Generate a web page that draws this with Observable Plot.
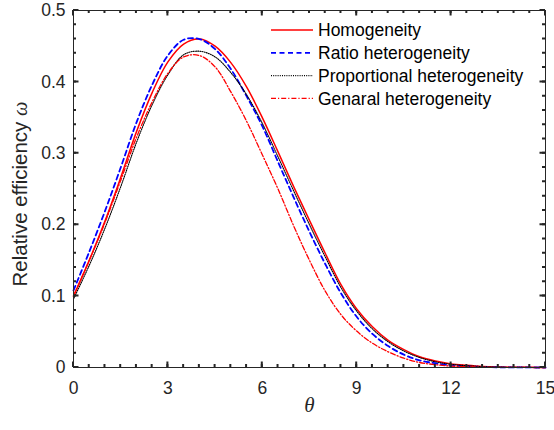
<!DOCTYPE html>
<html><head><meta charset="utf-8">
<script src="https://cdn.jsdelivr.net/npm/d3@7"></script>
<script src="https://cdn.jsdelivr.net/npm/@observablehq/plot@0.6"></script>
<style>body{margin:0;background:#fff;}</style>
</head><body><div id="chart"></div>
<script>
const theta = [0,0.5,1,1.5,2,2.5,3,3.5,4,4.5,5,5.5,6,6.5,7,7.5,8,8.5,9,9.5,10,10.5,11,11.5,12,12.5,13,13.5,14,14.5,15];
const homogeneity = [0.100,0.150,0.205,0.266,0.330,0.385,0.428,0.453,0.460,0.450,0.427,0.393,0.350,0.302,0.253,0.206,0.160,0.116,0.082,0.057,0.038,0.025,0.015,0.009,0.005,0.003,0.0015,0.0008,0.0004,0.0002,0.0001];
const ratioHet = [0.108,0.162,0.219,0.280,0.343,0.396,0.437,0.459,0.460,0.446,0.418,0.380,0.338,0.288,0.238,0.190,0.145,0.104,0.071,0.047,0.030,0.018,0.010,0.006,0.003,0.0015,0.0007,0.0003,0.0001,0.00005,0];
const proportionalHet = [0.096,0.143,0.195,0.253,0.315,0.368,0.410,0.438,0.443,0.435,0.413,0.382,0.342,0.295,0.247,0.200,0.155,0.112,0.079,0.054,0.036,0.023,0.014,0.008,0.0045,0.0025,0.0013,0.0006,0.0003,0.0001,0.00005];
const generalHet = [0.100,0.150,0.203,0.262,0.322,0.372,0.412,0.435,0.437,0.421,0.386,0.345,0.298,0.250,0.198,0.150,0.107,0.074,0.051,0.034,0.022,0.013,0.007,0.004,0.002,0.001,0.0005,0.0002,0.0001,0.00005,0];
const seriesNames = ["Homogeneity","Ratio heterogeneity","Proportional heterogeneity","Genaral heterogeneity"];
const seriesValues = [homogeneity, ratioHet, proportionalHet, generalHet];
const seriesColors = ["#ff0000","#0000ff","#000000","#ff0000"];
const seriesDash = [null,"5,3.5","1,1.2","5,2,1.2,2"];
const seriesWidth = [1.5,1.8,1.1,1.3];
const xTicks = [0,3,6,9,12,15];
const yTicks = [0,0.1,0.2,0.3,0.4,0.5];
const yTickLabels = ["0","0.1","0.2","0.3","0.4","0.5"];
const xLabel = "θ";
const yLabelText = "Relative efficiency ";
const yLabelSym = "ω";

const W = 554, H = 430, mL = 73, mR = 9, mT = 10, mB = 63;
const xMinor = d3.range(0, 15.001, 0.5);
const yMinor = d3.range(0, 0.5001, 0.02);
const axisColor = "#262626";

const lineMarks = seriesValues.map((vals, i) =>
  Plot.line(theta.map((t, j) => ({t, v: vals[j]})), {
    x: "t", y: "v", stroke: seriesColors[i], strokeWidth: seriesWidth[i],
    strokeDasharray: seriesDash[i], curve: "catmull-rom"
  })
);

const chart = Plot.plot({
  width: W, height: H,
  marginLeft: mL, marginRight: mR, marginTop: mT, marginBottom: mB,
  style: {fontFamily: "'Liberation Sans', Arial, sans-serif", fontSize: "17px", color: axisColor, background: "#fff"},
  x: {domain: [0, 15]},
  y: {domain: [0, 0.5]},
  marks: [
    ...lineMarks,
    Plot.frame({stroke: axisColor, strokeWidth: 1}),
    Plot.axisX({ticks: xTicks, tickSize: 0, tickPadding: 14, fontSize: 17.5, label: null, tickFormat: d => String(d)}),
    Plot.axisY({ticks: yTicks, tickSize: 0, tickPadding: 8, fontSize: 17.5, label: null, tickFormat: d => yTickLabels[yTicks.indexOf(d)]}),
    Plot.text([xLabel], {text: d => d, frameAnchor: "bottom", dy: 38, lineAnchor: "middle", fontSize: 21, fontStyle: "italic", fontFamily: "'Liberation Serif', 'DejaVu Serif', serif", fill: axisColor}),
    Plot.text([yLabelText + yLabelSym], {text: d => d, frameAnchor: "left", rotate: -90, dx: -53, dy: 5, textAnchor: "middle", lineAnchor: "middle", fontSize: 20.5, fill: axisColor, className: "ylab"})
  ]
});
document.getElementById("chart").appendChild(chart);

const svg = d3.select(chart);
const sx = chart.scale("x"), sy = chart.scale("y");
const X0 = sx.apply(0), X1 = sx.apply(15), Y0 = sy.apply(0), Y1 = sy.apply(0.5);

// inward ticks on all four sides, placed with Plot's own scales
const tg = svg.append("g");
function addTicks(vals, len, isX) {
  vals.forEach(v => {
    let d;
    if (isX) {
      const px = sx.apply(v);
      d = `M${px},${Y0}V${Y0 - len}M${px},${Y1}V${Y1 + len}`;
    } else {
      const py = sy.apply(v);
      d = `M${X0},${py}H${X0 + len}M${X1},${py}H${X1 - len}`;
    }
    tg.append("path").attr("d", d).attr("stroke", axisColor).attr("fill", "none").attr("stroke-width", 2);
  });
}
addTicks(xMinor, 3, true);
addTicks(xTicks, 5.5, true);
addTicks(yMinor, 3, false);
addTicks(yTicks, 5.5, false);

// italic omega in y label
svg.selectAll(".ylab text").each(function() {
  const t = d3.select(this);
  t.text(null);
  t.append("tspan").text(yLabelText);
  t.append("tspan").attr("font-family", "'Liberation Serif', serif").attr("font-style", "italic").text(yLabelSym);
});

// legend
const leg = svg.append("g").attr("font-family", "'Liberation Sans', Arial, sans-serif").attr("font-size", 17.5).attr("fill", "#000").attr("text-anchor", "start");
const legY = [30, 52.8, 75.6, 98.4];
seriesNames.forEach((name, i) => {
  leg.append("line").attr("x1", 271).attr("x2", 313).attr("y1", legY[i]).attr("y2", legY[i])
    .attr("stroke", seriesColors[i]).attr("stroke-width", seriesWidth[i])
    .attr("stroke-dasharray", seriesDash[i]);
  leg.append("text").attr("x", 318).attr("y", legY[i]).attr("dy", "0.35em").text(name);
});
</script>
</body></html>
